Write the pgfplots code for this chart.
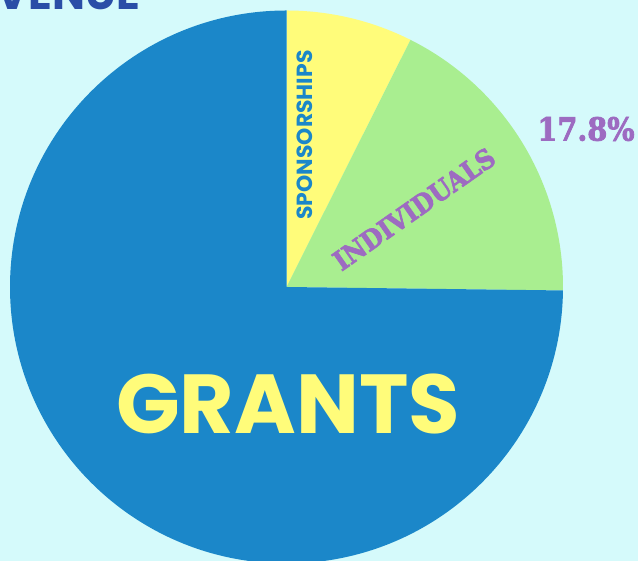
\documentclass[border=0pt]{standalone}
\usepackage{pgfplots}
\pgfplotsset{compat=1.18}
\usepackage{fontspec}
\setmainfont{Poppins}
\newfontfamily\slab{DejaVu Serif Condensed}[FakeBold=2.5]
\definecolor{bg}{HTML}{D5FAFB}
\definecolor{grantc}{HTML}{1B87C9}
\definecolor{sponc}{HTML}{FFFC7A}
\definecolor{indc}{HTML}{A9EE90}
\definecolor{purp}{HTML}{9D6BC1}
\definecolor{titlec}{HTML}{2A4EA7}
\begin{document}
\begin{tikzpicture}[x=1bp,y=1bp]
\clip (0,0) rectangle (638,561);
\fill[bg] (0,0) rectangle (638,561);
\begin{axis}[at={(0,0)}, anchor=south west, x=1bp, y=1bp,
  xmin=0, xmax=638, ymin=0, ymax=561, hide axis, clip=false]
% shares in percent: Sponsorships 7.4, Individuals 17.8, Grants 74.8
\fill[sponc] (axis cs:286.5,274) -- ++(90:276.5bp) arc[start angle=90, delta angle={-7.4*3.6}, radius=276.5bp] -- cycle;
\fill[indc] (axis cs:286.5,274) -- ++({90-7.4*3.6}:276.5bp) arc[start angle={90-7.4*3.6}, delta angle={-17.8*3.6}, radius=276.5bp] -- cycle;
\fill[grantc] (axis cs:286.5,274) -- ++({90-25.2*3.6}:276.5bp) arc[start angle={90-25.2*3.6}, delta angle={-74.8*3.6}, radius=276.5bp] -- cycle;
\node[inner sep=0, text=sponc, font=\fontsize{84}{84}\selectfont\bfseries] at (axis cs:288,157) {GRANTS};
\node[inner sep=0, rotate=90, text=grantc, font=\fontsize{22}{22}\selectfont\bfseries] at (axis cs:305,426) {SPONSORSHIPS};
\node[inner sep=0, rotate=35, text=purp, font=\fontsize{27}{27}\selectfont\slab\bfseries] at (axis cs:414,352) {INDIVIDUALS};
\node[inner sep=0, text=purp, font=\fontsize{32}{32}\selectfont\slab\bfseries] at (axis cs:586,432) {17.8\%};
\node[inner sep=0, anchor=base east, text=titlec, font=\fontsize{44}{44}\selectfont\bfseries] at (axis cs:140,551) {REVENUE};
\end{axis}
\end{tikzpicture}
\end{document}
